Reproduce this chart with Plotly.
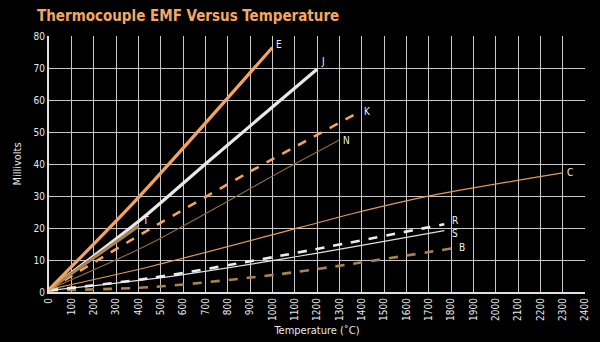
import plotly.graph_objects as go

# Data (temperature in deg C, EMF in mV)
E_t = [0, 400, 1000];              E_mv = [0.8, 29.5, 76.4]
J_t = [0, 400, 720, 1200];         J_mv = [0.8, 22.0, 41.2, 69.6]
K_t = [0, 450, 900, 1372];         K_mv = [0.8, 19.6, 37.6, 55.6]
N_t = [0, 450, 1050, 1300];        N_mv = [0.8, 15.0, 38.1, 47.5]
T_t = [0, 400];                    T_mv = [0.8, 20.6]
C_t = [0, 450, 1125, 1365, 1710, 2300];  C_mv = [0.8, 7.9, 20.2, 24.6, 30.1, 37.2]
R_t = [0, 450, 1035, 1770];        R_mv = [0.5, 4.3, 11.3, 21.2]
S_t = [0, 450, 1035, 1770];        S_mv = [0.5, 4.0, 10.2, 19.2]
B_t = [0, 450, 1035, 1820];        B_mv = [0.5, 1.5, 5.6, 13.8]

x_ticks = list(range(0, 2401, 100))
y_ticks = list(range(0, 81, 10))

ORANGE = "#F5A25E"
TAN = "#A9834F"
BROWN = "#8A6A40"
WHITE = "#EDEDED"

series = [
    ("C", C_t, C_mv, "#E39A58", 1.2, "solid"),
    ("N", N_t, N_mv, BROWN, 1.2, "solid"),
    ("S", S_t, S_mv, "#E0E0E0", 1.2, "solid"),
    ("B", B_t, B_mv, TAN, 2.6, "dash"),
    ("R", R_t, R_mv, WHITE, 2.6, "dash"),
    ("K", K_t, K_mv, ORANGE, 2.6, "dash"),
    ("J", J_t, J_mv, "#E8E8E8", 3.2, "solid"),
    ("T", T_t, T_mv, TAN, 3.2, "solid"),
    ("E", E_t, E_mv, ORANGE, 3.2, "solid"),
]

labels = {
    "E": (1030, 77.5), "J": (1225, 72.0), "K": (1425, 56.3), "N": (1330, 47.5),
    "C": (2335, 37.5), "R": (1818, 22.5), "S": (1818, 18.4), "B": (1850, 13.8),
    "T": (432, 22.3),
}

FONT = "DejaVu Sans Condensed, Liberation Sans Narrow, sans-serif"

fig = go.Figure()
for name, xs, ys, color, w, dash in series:
    fig.add_trace(go.Scatter(x=xs, y=ys, mode="lines", name=name,
                             line=dict(color=color, width=w, dash=dash,
                                       shape="spline", smoothing=0.8),
                             showlegend=False, hoverinfo="skip"))

for name, (lx, ly) in labels.items():
    fig.add_annotation(x=lx, y=ly, text=name, showarrow=False,
                       font=dict(family=FONT, size=10, color="#F0F0F0"),
                       xanchor="center", yanchor="middle")

fig.update_layout(
    width=600, height=342,
    paper_bgcolor="black", plot_bgcolor="black",
    margin=dict(l=49, r=15, t=36, b=50),
    title=dict(text="<b>Thermocouple EMF Versus Temperature</b>",
               x=37 / 600, xanchor="left", y=1 - 16 / 342, yanchor="middle",
               font=dict(family=FONT, size=15, color="#F2A865")),
    xaxis=dict(range=[0, 2400], tickvals=x_ticks, ticktext=[str(v) for v in x_ticks],
               tickangle=-90, showgrid=True, gridcolor="#C8C8C8", gridwidth=1,
               showline=True, linecolor="#E0E0E0", linewidth=2, zeroline=False,
               ticks="", automargin=False,
               tickfont=dict(family=FONT, size=10, color="#E8E8E8"),
               title=dict(text="Temperature (˚C)", standoff=6,
                          font=dict(family=FONT, size=11, color="#E8E8E8"))),
    yaxis=dict(range=[0, 80], tickvals=y_ticks, showgrid=True, gridcolor="#C8C8C8",
               gridwidth=1, showline=True, linecolor="#E0E0E0", linewidth=2,
               zeroline=False, ticks="", ticklen=0, automargin=False,
               tickfont=dict(family=FONT, size=10, color="#E8E8E8"),
               title=dict(text="Millivolts", standoff=10,
                          font=dict(family=FONT, size=11, color="#E8E8E8"))),
)

fig.write_html("out.html")
